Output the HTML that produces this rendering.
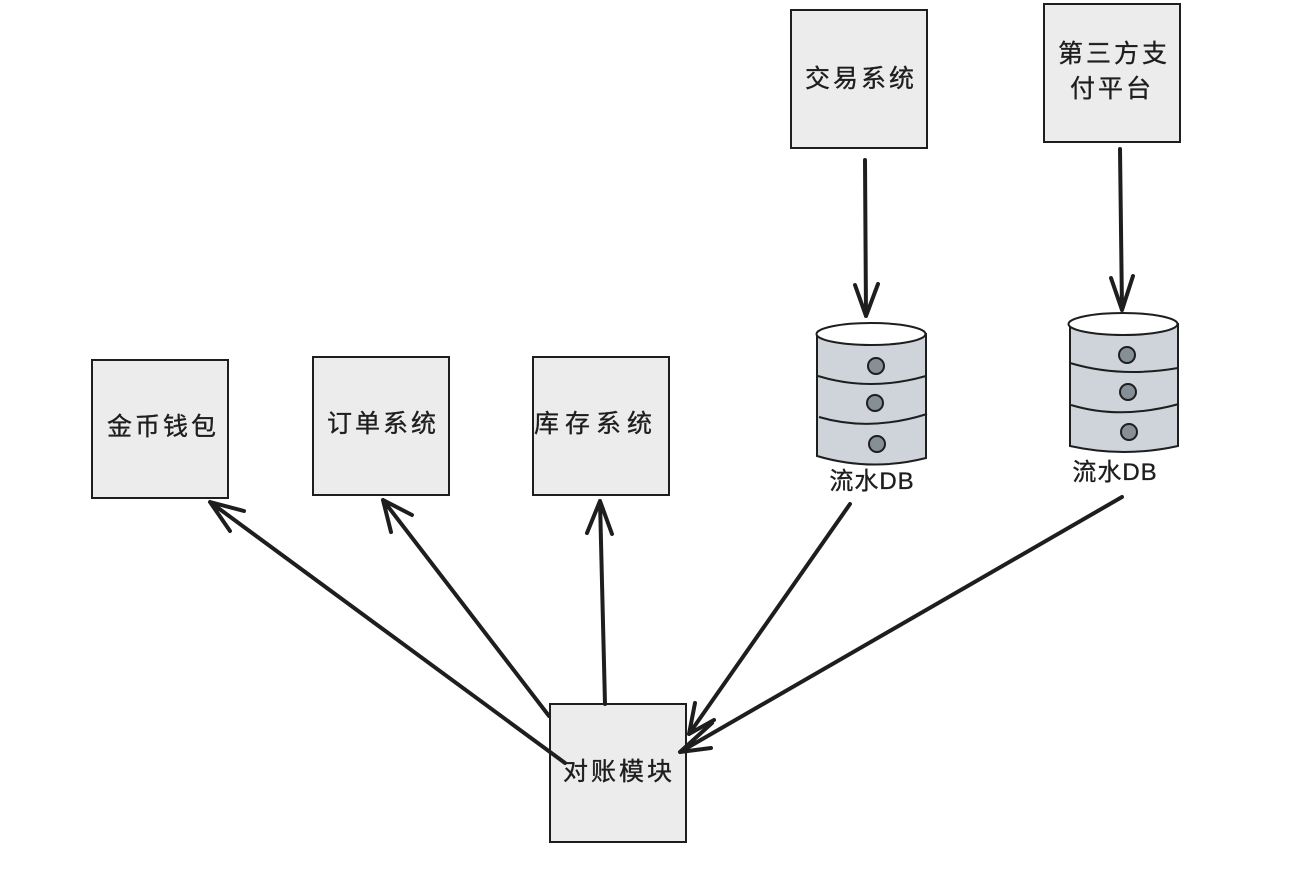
<!DOCTYPE html>
<html><head><meta charset="utf-8"><style>
html,body{margin:0;padding:0;background:#fff}
svg{display:block}
text{font-family:"Liberation Sans","WenQuanYi Zen Hei","Noto Sans CJK SC",sans-serif;fill:#1e1e1e;stroke:#1e1e1e;stroke-width:.35}
.b{fill:#ececec;stroke:#1e1e1e;stroke-width:2}
.t{font-size:25px;letter-spacing:3px;text-anchor:middle}
.l{font-size:24px;letter-spacing:1px;text-anchor:middle}
.a{fill:none;stroke:#1e1e1e;stroke-linecap:round;stroke-linejoin:round}
.c{fill:#ced4da;stroke:#1e1e1e;stroke-width:2}
.d{fill:#868e96;stroke:#1e1e1e;stroke-width:2}
.s{fill:none;stroke:#1e1e1e;stroke-width:2}
</style></head><body>
<svg width="1314" height="884" viewBox="0 0 1314 884" xmlns="http://www.w3.org/2000/svg">
<rect width="1314" height="884" fill="#fff"/>
<rect class="b" x="92" y="360" width="136" height="138"/>
<rect class="b" x="313" y="357" width="136" height="138"/>
<rect class="b" x="533" y="357" width="136" height="138"/>
<rect class="b" x="791" y="10" width="136" height="138"/>
<rect class="b" x="1044" y="4" width="136" height="138"/>
<rect class="b" x="550" y="704" width="136" height="138"/>
<text class="t" x="163" y="435">金币钱包</text>
<text class="t" x="383" y="432">订单系统</text>
<text class="t" x="596" y="432" style="letter-spacing:6px">库存系统</text>
<text class="t" x="861" y="87">交易系统</text>
<text class="t" x="1114" y="62">第三方支</text>
<text class="t" x="1112" y="97">付平台</text>
<text class="t" x="619" y="780">对账模块</text>

<path class="c" d="M817 334V456Q871 472 926 458V334Z"/>
<ellipse cx="871" cy="334" rx="54.500" ry="11" fill="#fff" stroke="#1e1e1e" stroke-width="2"/>
<path class="s" d="M818 376Q870 392 926 376M819 417Q870 432 927 414"/>
<circle class="d" cx="876" cy="366" r="8"/><circle class="d" cx="875" cy="403" r="8"/><circle class="d" cx="877" cy="444" r="8"/>
<text class="l" x="872" y="489">流水DB</text>

<path class="c" d="M1070 324V446Q1124 458 1178 446V324Z"/>
<ellipse cx="1123" cy="324" rx="54.500" ry="11" fill="#fff" stroke="#1e1e1e" stroke-width="2"/>
<path class="s" d="M1070 363Q1120 378 1178 368M1071 405Q1120 420 1179 404"/>
<circle class="d" cx="1127" cy="355" r="8"/><circle class="d" cx="1128" cy="392" r="8"/><circle class="d" cx="1129" cy="432" r="8"/>
<text class="l" x="1115" y="480">流水DB</text>

<g class="a" stroke-width="4">
<path d="M865 160L866 316M855 285L866 316L878 284"/>
<path d="M1120 149L1122 310M1111 278L1122 310L1133 276"/>
<path d="M605 704L600 501M587 533L600 501L612 534"/>
<path d="M565 763L210 502M230 531L210 502L244 511"/>
<path d="M549 716L383 500M391 532L383 500L412 515"/>
<path d="M850 504L689 734M695 703L689 734L714 720"/>
<path d="M1122 497L680 752M712 723L680 752L711 748"/>
</g>
</svg>
</body></html>
